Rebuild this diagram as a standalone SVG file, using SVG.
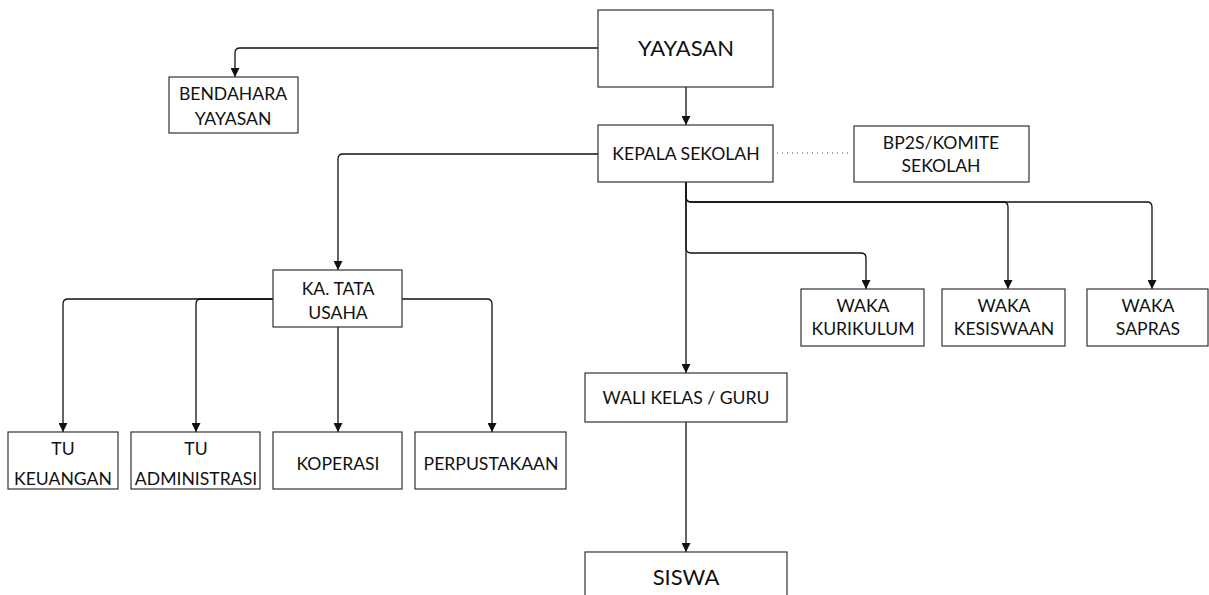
<svg xmlns="http://www.w3.org/2000/svg" width="1209" height="595" viewBox="0 0 1209 595">
<style>
.box{fill:#fff;stroke:#333;stroke-width:1.2}
.t{font-family:Lato,"Open Sans","Liberation Sans",sans-serif;font-size:17.6px;fill:#111;text-anchor:middle}
.big{font-size:22px}
.c{fill:none;stroke:#111;stroke-width:1.3}
.dot{fill:none;stroke:#444;stroke-width:1;stroke-dasharray:1 4}
</style>
<defs>
<marker id="a" viewBox="0 0 10 10" refX="10" refY="5" markerWidth="9" markerHeight="9" markerUnits="userSpaceOnUse" orient="auto">
<path d="M0,0 L10,5 L0,10 z" fill="#111"/>
</marker>
</defs>
<rect width="1209" height="595" fill="#fff"/>
<g id="connectors">
<path class="c" d="M598,48 H240 Q235,48 235,53 V77" marker-end="url(#a)"/>
<path class="c" d="M686,87 V125" marker-end="url(#a)"/>
<path class="c" d="M598,154 H343 Q338,154 338,159 V270" marker-end="url(#a)"/>
<path class="dot" d="M777,153 H852"/>
<path class="c" d="M686,182 V197 Q686,202 691,202 H1003 Q1008,202 1008,207 V289" marker-end="url(#a)"/>
<path class="c" d="M686,197 Q686,202 691,202 H1147 Q1152,202 1152,207 V289" marker-end="url(#a)"/>
<path class="c" d="M686,182 V248 Q686,253 691,253 H861 Q866,253 866,258 V289" marker-end="url(#a)"/>
<path class="c" d="M686,182 V373" marker-end="url(#a)"/>
<path class="c" d="M686,422 V552" marker-end="url(#a)"/>
<path class="c" d="M273,299 H68 Q63,299 63,304 V432" marker-end="url(#a)"/>
<path class="c" d="M273,299 H201 Q196,299 196,304 V432" marker-end="url(#a)"/>
<path class="c" d="M338,327 V432" marker-end="url(#a)"/>
<path class="c" d="M402,299 H487 Q492,299 492,304 V432" marker-end="url(#a)"/>
</g>
<g id="yayasan"><rect class="box" x="598" y="10" width="175" height="77"/><text class="t big" x="686" y="56">YAYASAN</text></g>
<g id="bendahara"><rect class="box" x="169" y="77" width="129" height="56"/><text class="t" x="233" y="100">BENDAHARA</text><text class="t" x="233" y="125">YAYASAN</text></g>
<g id="kepala"><rect class="box" x="598" y="125" width="175" height="57"/><text class="t" x="686" y="160">KEPALA SEKOLAH</text></g>
<g id="bp2s"><rect class="box" x="854" y="126" width="175" height="56"/><text class="t" x="941" y="149">BP2S/KOMITE</text><text class="t" x="941" y="172">SEKOLAH</text></g>
<g id="katu"><rect class="box" x="273" y="270" width="129" height="57"/><text class="t" x="338" y="295">KA. TATA</text><text class="t" x="338" y="319">USAHA</text></g>
<g id="tukeu"><rect class="box" x="8" y="432" width="110" height="57"/><text class="t" x="63" y="455">TU</text><text class="t" x="63" y="485">KEUANGAN</text></g>
<g id="tuadm"><rect class="box" x="131" y="432" width="129" height="57"/><text class="t" x="196" y="455">TU</text><text class="t" x="196" y="485">ADMINISTRASI</text></g>
<g id="koperasi"><rect class="box" x="273" y="432" width="129" height="57"/><text class="t" x="338" y="470">KOPERASI</text></g>
<g id="perpus"><rect class="box" x="415" y="432" width="151" height="57"/><text class="t" x="491" y="470">PERPUSTAKAAN</text></g>
<g id="wakakur"><rect class="box" x="801" y="289" width="123" height="57"/><text class="t" x="863" y="312">WAKA</text><text class="t" x="863" y="335">KURIKULUM</text></g>
<g id="wakakes"><rect class="box" x="942" y="289" width="123" height="57"/><text class="t" x="1004" y="312">WAKA</text><text class="t" x="1004" y="335">KESISWAAN</text></g>
<g id="wakasap"><rect class="box" x="1087" y="289" width="121" height="57"/><text class="t" x="1148" y="312">WAKA</text><text class="t" x="1148" y="335">SAPRAS</text></g>
<g id="wali"><rect class="box" x="585" y="373" width="202" height="49"/><text class="t" x="686" y="404">WALI KELAS / GURU</text></g>
<g id="siswa"><rect class="box" x="585" y="552" width="202" height="50"/><text class="t big" x="686" y="585">SISWA</text></g>
</svg>
